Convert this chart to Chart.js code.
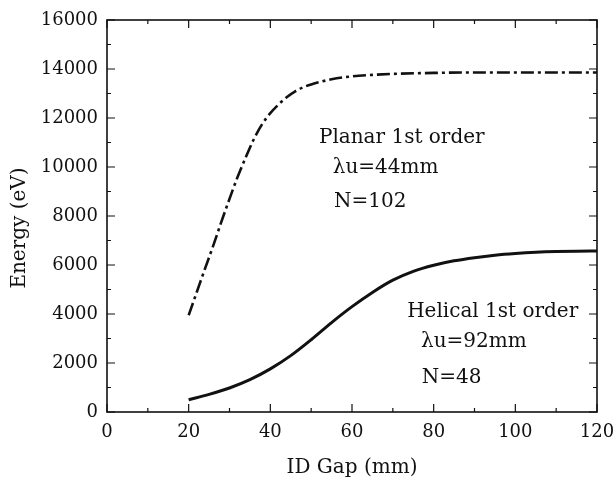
<!DOCTYPE html>
<html>
<head>
<meta charset="utf-8">
<script src="https://cdn.jsdelivr.net/npm/chart.js@4"></script>
<style>
  body { margin: 0; background: #fff; }
  canvas { display: block; }
</style>
</head>
<body>
<canvas id="gapChart" width="615" height="479"></canvas>
<script>
// ID gap (mm) vs. photon energy (eV)
var planarGap = [20, 22, 24, 26, 28, 30, 32, 34, 36, 38, 40, 42, 44, 46, 48, 50, 55, 60, 65, 70, 80, 90, 100, 110, 120];
var planarEnergy = [3950, 4900, 5850, 6780, 7760, 8700, 9600, 10400, 11150, 11750, 12200, 12550, 12850, 13080, 13250, 13370, 13580, 13700, 13760, 13800, 13840, 13860, 13860, 13860, 13860];

var helicalGap = [20, 25, 30, 35, 40, 45, 50, 55, 60, 65, 70, 75, 80, 85, 90, 95, 100, 105, 110, 115, 120];
var helicalEnergy = [500, 720, 980, 1320, 1760, 2300, 2950, 3650, 4300, 4880, 5380, 5740, 5990, 6170, 6300, 6400, 6470, 6520, 6550, 6565, 6570];

var xTicks = [0, 20, 40, 60, 80, 100, 120];
var yTicks = [0, 2000, 4000, 6000, 8000, 10000, 12000, 14000, 16000];

var notes = [
  { text: "Planar 1st order", gap: 51.9, energy: 11000 },
  { text: "\u03bbu=44mm", gap: 55.3, energy: 9735 },
  { text: "N=102", gap: 55.6, energy: 8360 },
  { text: "Helical 1st order", gap: 73.5, energy: 3862 },
  { text: "\u03bbu=92mm", gap: 76.9, energy: 2640 },
  { text: "N=48", gap: 77.1, energy: 1183 }
];

var serif = "'DejaVu Serif', serif";

function toPoints(xs, ys) {
  return xs.map(function (x, i) { return { x: x, y: ys[i] }; });
}

// frame, inward ticks on all sides, axis titles, text notes
var framePlugin = {
  id: "frame",
  afterDraw: function (chart) {
    var ctx = chart.ctx, a = chart.chartArea;
    var xs = chart.scales.x, ys = chart.scales.y;
    ctx.save();
    ctx.strokeStyle = "#111";
    ctx.lineWidth = 1.6;
    ctx.strokeRect(a.left, a.top, a.right - a.left, a.bottom - a.top);
    ctx.lineWidth = 1.2;
    ctx.beginPath();
    for (var v = 0; v <= 120; v += 10) {
      var px = xs.getPixelForValue(v);
      var len = v % 20 === 0 ? 8 : 4;
      ctx.moveTo(px, a.bottom); ctx.lineTo(px, a.bottom - len);
      ctx.moveTo(px, a.top); ctx.lineTo(px, a.top + len);
    }
    for (var e = 0; e <= 16000; e += 1000) {
      var py = ys.getPixelForValue(e);
      var l2 = e % 2000 === 0 ? 8 : 4;
      ctx.moveTo(a.left, py); ctx.lineTo(a.left + l2, py);
      ctx.moveTo(a.right, py); ctx.lineTo(a.right - l2, py);
    }
    ctx.stroke();

    ctx.fillStyle = "#111";
    ctx.font = "20px " + serif;
    ctx.textBaseline = "alphabetic";
    ctx.textAlign = "left";
    notes.forEach(function (n) {
      ctx.fillText(n.text, xs.getPixelForValue(n.gap), ys.getPixelForValue(n.energy));
    });

    ctx.textAlign = "center";
    ctx.fillText("ID Gap (mm)", (a.left + a.right) / 2, 473);
    ctx.translate(25, 228);
    ctx.rotate(-Math.PI / 2);
    ctx.fillText("Energy (eV)", 0, 0);
    ctx.restore();
  }
};

var ctx = document.getElementById("gapChart").getContext("2d");
var chart = new Chart(ctx, {
  type: "line",
  data: {
    datasets: [{
      label: "Planar 1st order",
      data: toPoints(planarGap, planarEnergy),
      borderColor: "#111",
      borderWidth: 2.6,
      borderDash: [13, 4, 3, 4],
      pointRadius: 0,
      cubicInterpolationMode: "monotone",
      fill: false
    }, {
      label: "Helical 1st order",
      data: toPoints(helicalGap, helicalEnergy),
      borderColor: "#111",
      borderWidth: 3,
      pointRadius: 0,
      cubicInterpolationMode: "monotone",
      fill: false
    }]
  },
  options: {
    responsive: false,
    animation: false,
    layout: { padding: { top: 20, right: 0, left: 0, bottom: 0 } },
    plugins: {
      legend: { display: false },
      tooltip: { enabled: false }
    },
    scales: {
      x: {
        type: "linear",
        min: 0, max: 120,
        afterFit: function (s) { s.height = 67; s.paddingRight = 18; s.paddingLeft = 0; },
        afterBuildTicks: function (s) { s.ticks = xTicks.map(function (v) { return { value: v }; }); },
        grid: { display: false, drawTicks: false },
        border: { display: false },
        ticks: { color: "#111", padding: 10, font: { family: serif, size: 18 }, callback: function (v) { return String(v); } }
      },
      y: {
        type: "linear",
        min: 0, max: 16000,
        afterFit: function (s) { s.width = 107; },
        afterBuildTicks: function (s) { s.ticks = yTicks.map(function (v) { return { value: v }; }); },
        grid: { display: false, drawTicks: false },
        border: { display: false },
        ticks: { color: "#111", padding: 9, font: { family: serif, size: 18 }, callback: function (v) { return String(v); } }
      }
    }
  },
  plugins: [framePlugin]
});
</script>
</body>
</html>
